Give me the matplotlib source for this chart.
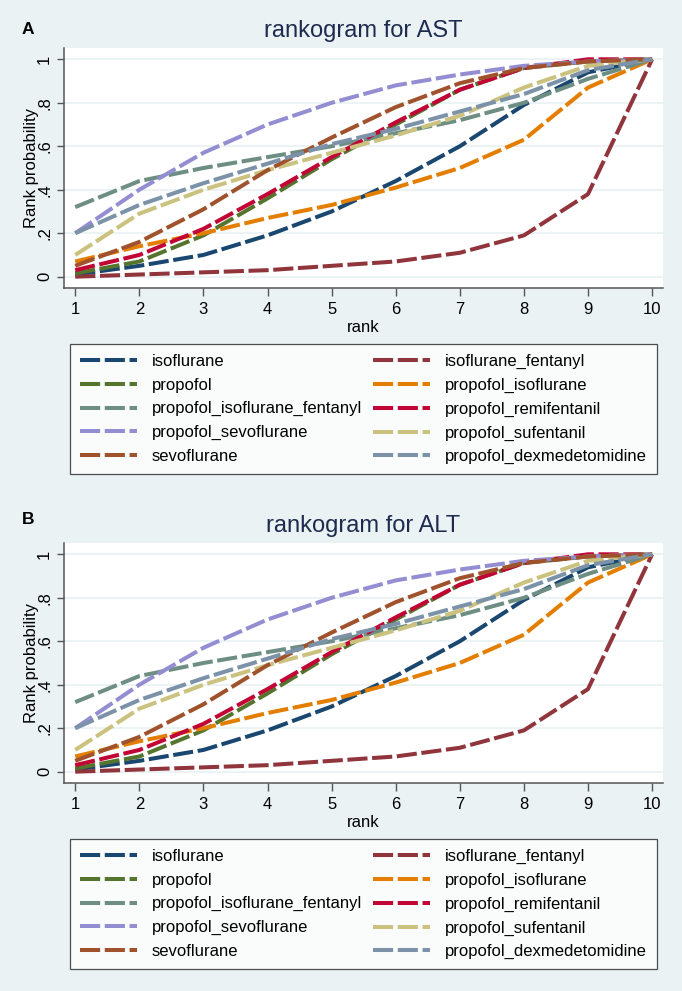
import matplotlib
matplotlib.use("Agg")
import matplotlib.pyplot as plt

plt.rcParams['font.family'] = ['Liberation Sans', 'DejaVu Sans']

# ranks on the x axis
ranks = [1, 2, 3, 4, 5, 6, 7, 8, 9, 10]

# cumulative rank probabilities (AST and ALT panels look the same)
isoflurane = [0.01, 0.05, 0.10, 0.19, 0.30, 0.44, 0.60, 0.79, 0.94, 1.0]
isoflurane_fentanyl = [0.00, 0.01, 0.02, 0.03, 0.05, 0.07, 0.11, 0.19, 0.38, 1.0]
propofol = [0.015, 0.07, 0.19, 0.36, 0.54, 0.70, 0.86, 0.96, 0.99, 1.0]
propofol_isoflurane = [0.07, 0.14, 0.20, 0.27, 0.33, 0.41, 0.50, 0.63, 0.87, 1.0]
propofol_isoflurane_fentanyl = [0.32, 0.44, 0.50, 0.55, 0.60, 0.66, 0.72, 0.80, 0.91, 1.0]
propofol_remifentanil = [0.03, 0.10, 0.22, 0.38, 0.55, 0.71, 0.86, 0.96, 1.0, 1.0]
propofol_sevoflurane = [0.20, 0.40, 0.57, 0.70, 0.80, 0.88, 0.93, 0.97, 0.99, 1.0]
propofol_sufentanil = [0.10, 0.29, 0.40, 0.49, 0.57, 0.65, 0.74, 0.87, 0.97, 1.0]
sevoflurane = [0.05, 0.16, 0.31, 0.49, 0.64, 0.78, 0.89, 0.96, 0.99, 1.0]
propofol_dexmedetomidine = [0.20, 0.33, 0.43, 0.52, 0.61, 0.68, 0.76, 0.84, 0.95, 1.0]

labels = ['isoflurane', 'isoflurane_fentanyl', 'propofol', 'propofol_isoflurane',
          'propofol_isoflurane_fentanyl', 'propofol_remifentanil', 'propofol_sevoflurane',
          'propofol_sufentanil', 'sevoflurane', 'propofol_dexmedetomidine']
series = [isoflurane, isoflurane_fentanyl, propofol, propofol_isoflurane,
          propofol_isoflurane_fentanyl, propofol_remifentanil, propofol_sevoflurane,
          propofol_sufentanil, sevoflurane, propofol_dexmedetomidine]
# Stata s2color palette
colors = ['#1a476f', '#90353b', '#55752f', '#e37e00', '#6e8e84',
          '#c10534', '#938dd2', '#cac27e', '#a0522d', '#7b92a8']

panels = [('A', 'rankogram for AST'), ('B', 'rankogram for ALT')]
ytick_vals = [0, 0.2, 0.4, 0.6, 0.8, 1]
ytick_labels = ['0', '.2', '.4', '.6', '.8', '1']

W, H = 682, 991
bg = '#eaf2f3'
axis_col = '#555555'
fig = plt.figure(figsize=(W / 100, H / 100), dpi=100, facecolor=bg)


def px(x0, y0, w, h):
    # pixel box (top-left origin) -> figure fraction rect
    return [x0 / W, 1 - (y0 + h) / H, w / W, h / H]


letter_y = [29, 519]

for k, (letter, title) in enumerate(panels):
    off = k * 495
    ax = fig.add_axes(px(64, 48 + off, 599, 240))
    ax.set_facecolor('white')

    handles = []
    for vals, lab, col in zip(series, labels, colors):
        ln, = ax.plot(ranks, vals, color=col, lw=2.9, linestyle=(0, (5, 1.15)),
                      label=lab, dash_capstyle='butt')
        handles.append(ln)

    ax.set_xlim(0.825, 10.17)
    ax.set_ylim(-0.052, 1.052)
    ax.set_xticks(ranks)
    ax.set_yticks(ytick_vals)
    ax.set_yticklabels(ytick_labels, rotation=90, va='center')
    ax.tick_params(axis='x', length=6, width=1, pad=4, labelsize=12,
                   direction='out', color=axis_col)
    ax.tick_params(axis='y', length=5, width=1, pad=3.5, labelsize=12,
                   direction='out', color=axis_col)
    ax.grid(axis='y', color=bg, lw=1.3)
    ax.set_axisbelow(True)
    for s in ['top', 'right']:
        ax.spines[s].set_visible(False)
    for s in ['left', 'bottom']:
        ax.spines[s].set_color(axis_col)
        ax.spines[s].set_linewidth(1.1)

    ax.set_xlabel('rank', fontsize=12, labelpad=2)
    ax.set_ylabel('Rank probability', fontsize=12)
    ax.yaxis.set_label_coords(-0.042, 0.5)
    ax.set_title(title, fontsize=17, color='#1e2b4f', pad=8)

    fig.text(22 / W, 1 - letter_y[k] / H, letter, fontsize=12.5, fontweight='bold',
             va='center', ha='left')

    # legend filled row by row like Stata
    order = [0, 2, 4, 6, 8, 1, 3, 5, 7, 9]
    leg = ax.legend([handles[i] for i in order], [labels[i] for i in order],
                    ncol=2, loc='upper left', mode='expand',
                    bbox_to_anchor=(70 / W, 1 - (344 + off) / H - 0.01, 587 / W, 0.01),
                    bbox_transform=fig.transFigure, fontsize=12,
                    frameon=True, fancybox=False, edgecolor='#222222',
                    handlelength=3.4, handletextpad=0.9, labelspacing=0.52,
                    borderpad=0.6, borderaxespad=0, columnspacing=1.0)
    leg.get_frame().set_linewidth(0.9)

fig.savefig('out.png', dpi=100, facecolor=bg)
